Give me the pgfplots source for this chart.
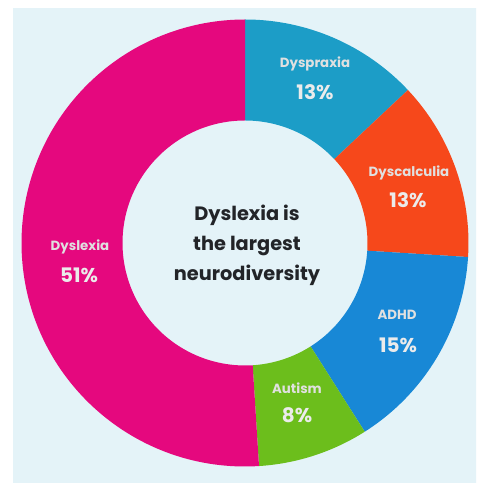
\documentclass[border=0pt]{standalone}
\usepackage{pgfplots}
\pgfplotsset{compat=1.18}
\usepackage{pgfplotstable}
\usepackage{fontspec}
\setmainfont{Poppins}
\definecolor{cDyspraxia}{HTML}{1C9DC7}
\definecolor{cDyscalculia}{HTML}{F6481B}
\definecolor{cADHD}{HTML}{1888D6}
\definecolor{cAutism}{HTML}{6CBE1C}
\definecolor{cDyslexia}{HTML}{E5087E}
\definecolor{panel}{HTML}{E4F3F8}
\definecolor{ctext}{HTML}{222428}

% segments clockwise from the top
\pgfplotstableread[col sep=comma]{
label,value,color
Dyspraxia,13,cDyspraxia
Dyscalculia,13,cDyscalculia
ADHD,15,cADHD
Autism,8,cAutism
Dyslexia,51,cDyslexia
}\piedata

\begin{document}
\begin{tikzpicture}
\useasboundingbox (0,0) rectangle (357pt,362.25pt);
\clip (0,0) rectangle (357pt,362.25pt);
\begin{axis}[
  at={(0,0)}, anchor=south west,
  scale only axis,
  width=357pt, height=362.25pt,
  xmin=0, xmax=476, ymin=0, ymax=483,
  hide axis, clip=false,
]
% background
\fill[white] (axis cs:-20,-20) rectangle (axis cs:500,500);
\fill[panel] (axis cs:13,-20) rectangle (axis cs:500,475);
% donut
\def\Rout{167.625pt}
\def\Rin{91.875pt}
\def\startang{90}
\pgfplotsforeachungrouped \i in {0,...,4}{%
  \pgfplotstablegetelem{\i}{value}\of\piedata
  \let\val\pgfplotsretval
  \pgfplotstablegetelem{\i}{color}\of\piedata
  \let\col\pgfplotsretval
  \pgfmathsetmacro\endang{\startang-3.6*\val}%
  \edef\wedge{\noexpand\fill[\col] ([shift={(\startang:\Rout)}]axis cs:245,240)
     arc[start angle=\startang,end angle=\endang,radius=\Rout]
     -- ([shift={(\endang:\Rin)}]axis cs:245,240)
     arc[start angle=\endang,end angle=\startang,radius=\Rin] -- cycle;}%
  \wedge
  \global\let\startang\endang
}
% labels
\tikzset{lab/.style={font=\bfseries\fontsize{10pt}{12pt}\selectfont, text=white!88!black, inner sep=0pt},
         pct/.style={font=\bfseries\fontsize{15pt}{18pt}\selectfont, text=white!92!black, inner sep=0pt}}
\node[lab] at (axis cs:315,419) {Dyspraxia};
\node[pct] at (axis cs:315,391) {13\%};
\node[lab] at (axis cs:409,310) {Dyscalculia};
\node[pct] at (axis cs:408,283) {13\%};
\node[lab] at (axis cs:397,168) {ADHD};
\node[pct] at (axis cs:398,138) {15\%};
\node[lab] at (axis cs:297,95) {Autism};
\node[pct] at (axis cs:297,68) {8\%};
\node[lab] at (axis cs:80,236) {Dyslexia};
\node[pct] at (axis cs:79,208) {51\%};
\node[font=\bfseries\fontsize{14.5pt}{22.5pt}\selectfont, text=ctext, align=center, inner sep=0pt]
  at (axis cs:247,238) {Dyslexia is\\the largest\\neurodiversity};
\end{axis}
\end{tikzpicture}
\end{document}
